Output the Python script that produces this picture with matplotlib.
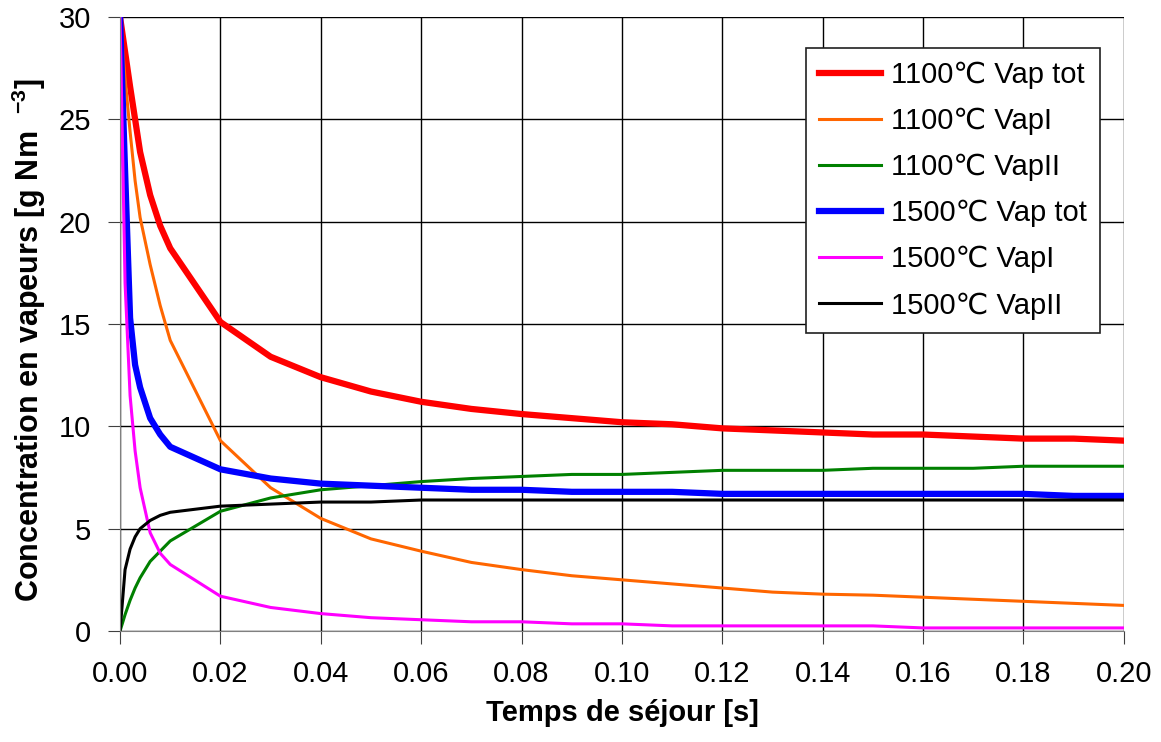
import numpy as np
import matplotlib
matplotlib.use('Agg')
import matplotlib.pyplot as plt

plt.rcParams['font.family'] = ['Liberation Sans', 'DejaVu Sans']
plt.rcParams['mathtext.fontset'] = 'custom'
plt.rcParams['mathtext.rm'] = 'Liberation Sans'
plt.rcParams['mathtext.bf'] = 'Liberation Sans:bold'
plt.rcParams['axes.unicode_minus'] = False

# temps de sejour [s]
t = [0, 0.001, 0.002, 0.003, 0.004, 0.006, 0.008, 0.01,
     0.02, 0.03, 0.04, 0.05, 0.06, 0.07, 0.08, 0.09, 0.10,
     0.11, 0.12, 0.13, 0.14, 0.15, 0.16, 0.17, 0.18, 0.19, 0.20]

vap_tot_1100 = [30, 28.3, 26.6, 25.0, 23.4, 21.3, 19.8, 18.7,
                15.1, 13.4, 12.4, 11.7, 11.2, 10.85, 10.6, 10.4, 10.2,
                10.1, 9.9, 9.8, 9.7, 9.6, 9.6, 9.5, 9.4, 9.4, 9.3]
vap1_1100 = [30, 27.0, 24.4, 22.0, 20.2, 17.9, 15.9, 14.2,
             9.3, 7.0, 5.5, 4.5, 3.9, 3.35, 3.0, 2.7, 2.5,
             2.3, 2.1, 1.9, 1.8, 1.75, 1.65, 1.55, 1.45, 1.35, 1.25]
vap2_1100 = [0, 0.8, 1.5, 2.1, 2.6, 3.4, 3.9, 4.4,
             5.85, 6.5, 6.9, 7.1, 7.3, 7.45, 7.55, 7.65, 7.65,
             7.75, 7.85, 7.85, 7.85, 7.95, 7.95, 7.95, 8.05, 8.05, 8.05]
vap_tot_1500 = [30, 22.5, 15.3, 13.0, 11.9, 10.4, 9.6, 9.0,
                7.9, 7.45, 7.2, 7.1, 7.0, 6.9, 6.9, 6.8, 6.8,
                6.8, 6.7, 6.7, 6.7, 6.7, 6.7, 6.7, 6.7, 6.6, 6.6]
vap1_1500 = [30, 17.0, 11.5, 8.8, 7.0, 4.8, 3.8, 3.25,
             1.7, 1.15, 0.85, 0.65, 0.55, 0.45, 0.45, 0.35, 0.35,
             0.25, 0.25, 0.25, 0.25, 0.25, 0.15, 0.15, 0.15, 0.15, 0.15]
vap2_1500 = [0, 3.0, 4.0, 4.6, 5.0, 5.4, 5.65, 5.8,
             6.1, 6.2, 6.3, 6.3, 6.4, 6.4, 6.4, 6.4, 6.4,
             6.4, 6.4, 6.4, 6.4, 6.4, 6.4, 6.4, 6.4, 6.4, 6.4]

fig = plt.figure(figsize=(11.61, 7.42), dpi=100)
ax = fig.add_axes([0.1034, 0.1496, 0.8646, 0.8275])

ax.plot(t, vap_tot_1100, color='#ff0000', lw=4.5, label='1100℃ Vap tot')
ax.plot(t, vap1_1100, color='#ff6600', lw=2.2, label='1100℃ VapI')
ax.plot(t, vap2_1100, color='#008000', lw=2.2, label='1100℃ VapII')
ax.plot(t, vap_tot_1500, color='#0000ff', lw=4.5, label='1500℃ Vap tot')
ax.plot(t, vap1_1500, color='#ff00ff', lw=2.2, label='1500℃ VapI')
ax.plot(t, vap2_1500, color='#000000', lw=2.2, label='1500℃ VapII')

ax.set_xlim(0, 0.2)
ax.set_ylim(0, 30)
xt = np.arange(0, 0.201, 0.02)
ax.set_xticks(xt)
ax.set_yticks(np.arange(0, 31, 5))
ax.set_xticklabels(['%.2f' % v for v in xt])
ax.grid(True, color='black', lw=1.0)
ax.set_axisbelow(True)
for s in ['top', 'right']:
    ax.spines[s].set_visible(False)
ax.spines['left'].set_color('#808080')
ax.spines['bottom'].set_color('#808080')
ax.tick_params(axis='both', labelsize=21, direction='out', length=9,
               color='#404040')
ax.tick_params(axis='x', pad=12)
ax.tick_params(axis='y', pad=12)

ax.set_xlabel('Temps de séjour [s]', fontsize=21, fontweight='bold', labelpad=8)
ax.set_ylabel(r'Concentration en vapeurs [g Nm  $^{\mathbf{-3}}$]',
              fontsize=22, fontweight='bold')
ax.yaxis.set_label_coords(-0.072, 0.474)

leg = ax.legend(loc='upper right', bbox_to_anchor=(0.976, 0.9495), fontsize=21,
                frameon=True, fancybox=False, edgecolor='#202020',
                borderaxespad=0, handlelength=2.1, labelspacing=0.62,
                borderpad=0.45, handletextpad=0.35)
leg.get_frame().set_linewidth(1.2)
leg.get_frame().set_alpha(1)

fig.savefig('out.png', dpi=100)
